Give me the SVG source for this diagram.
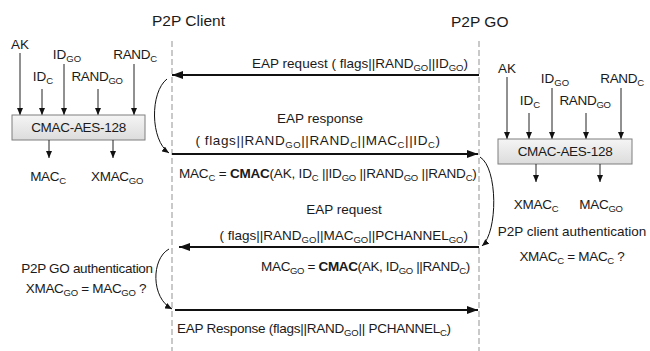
<svg xmlns="http://www.w3.org/2000/svg" width="650" height="351" viewBox="0 0 650 351">
<defs>
<style>
text{font-family:"Liberation Sans",Arial,sans-serif;fill:#1a1a1a;font-size:13.5px}
.title{font-size:15.5px}
.n{letter-spacing:-0.3px}
.sub{font-size:9.5px}
.b{font-weight:bold}
.life{stroke:#a6a6a6;stroke-width:1.2;stroke-dasharray:6,3;fill:none}
.msg{stroke:#111;stroke-width:1.8;fill:none;marker-end:url(#ah)}
.loop{stroke:#111;stroke-width:1;fill:none;marker-end:url(#sh)}
.in{stroke:#222;stroke-width:1;fill:none;marker-end:url(#sh)}
.box{fill:url(#g);stroke:#7f7f7f;stroke-width:1}
</style>
<linearGradient id="g" x1="0" y1="0" x2="0" y2="1">
<stop offset="0" stop-color="#f5f5f5"/>
<stop offset="1" stop-color="#dcdcdc"/>
</linearGradient>
<marker id="ah" markerUnits="userSpaceOnUse" markerWidth="11" markerHeight="8" refX="11" refY="4" orient="auto">
<path d="M0,0 L11,4 L0,8 z" fill="#111"/>
</marker>
<marker id="sh" markerUnits="userSpaceOnUse" markerWidth="7" markerHeight="6" refX="7" refY="3" orient="auto">
<path d="M0,0 L7,3 L0,6 z" fill="#111"/>
</marker>
</defs>
<rect width="650" height="351" fill="#fff"/>

<g id="title-client"><text class="title" x="152" y="26">P2P Client</text></g>
<g id="title-go"><text class="title" x="451" y="27">P2P GO</text></g>

<g id="lifelines">
<line class="life" x1="172" y1="41" x2="172" y2="351"/>
<line class="life" x1="479" y1="41" x2="479" y2="351"/>
</g>

<g id="cmac-client">
<text x="20" y="49" text-anchor="middle">AK</text>
<text x="43" y="81" text-anchor="middle">ID<tspan class="sub" dy="3">C</tspan></text>
<text x="67" y="59" text-anchor="middle">ID<tspan class="sub" dy="3">GO</tspan></text>
<text class="n" x="97" y="81" text-anchor="middle">RAND<tspan class="sub" dy="3">GO</tspan></text>
<text class="n" x="135" y="59" text-anchor="middle">RAND<tspan class="sub" dy="3">C</tspan></text>
<line class="in" x1="20" y1="53" x2="20" y2="115"/>
<line class="in" x1="42" y1="89" x2="42" y2="115"/>
<line class="in" x1="64" y1="64" x2="64" y2="115"/>
<line class="in" x1="98" y1="89" x2="98" y2="115"/>
<line class="in" x1="134" y1="64" x2="134" y2="115"/>
<rect class="box" x="12" y="115" width="133" height="25"/>
<text class="n" x="78.5" y="132" text-anchor="middle">CMAC-AES-128</text>
<line class="in" x1="49" y1="140" x2="49" y2="158"/>
<line class="in" x1="113" y1="140" x2="113" y2="158"/>
<text class="n" x="48" y="181" text-anchor="middle">MAC<tspan class="sub" dy="3">C</tspan></text>
<text class="n" x="117" y="181" text-anchor="middle">XMAC<tspan class="sub" dy="3">GO</tspan></text>
</g>

<g id="cmac-go">
<text x="507" y="73" text-anchor="middle">AK</text>
<text x="530" y="105" text-anchor="middle">ID<tspan class="sub" dy="3">C</tspan></text>
<text x="555" y="83" text-anchor="middle">ID<tspan class="sub" dy="3">GO</tspan></text>
<text class="n" x="585" y="105" text-anchor="middle">RAND<tspan class="sub" dy="3">GO</tspan></text>
<text class="n" x="622" y="83" text-anchor="middle">RAND<tspan class="sub" dy="3">C</tspan></text>
<line class="in" x1="507" y1="77" x2="507" y2="139"/>
<line class="in" x1="529" y1="113" x2="529" y2="139"/>
<line class="in" x1="552" y1="88" x2="552" y2="139"/>
<line class="in" x1="586" y1="113" x2="586" y2="139"/>
<line class="in" x1="621" y1="88" x2="621" y2="139"/>
<rect class="box" x="498" y="139" width="134" height="25"/>
<text class="n" x="565" y="156" text-anchor="middle">CMAC-AES-128</text>
<line class="in" x1="536" y1="164" x2="536" y2="182"/>
<line class="in" x1="600" y1="164" x2="600" y2="182"/>
<text class="n" x="536" y="209" text-anchor="middle">XMAC<tspan class="sub" dy="3">C</tspan></text>
<text class="n" x="601" y="209" text-anchor="middle">MAC<tspan class="sub" dy="3">GO</tspan></text>
</g>

<g id="auth-client">
<text x="572" y="236" text-anchor="middle">P2P client authentication</text>
<text class="n" x="572" y="261" text-anchor="middle">XMAC<tspan class="sub" dy="3">C</tspan><tspan dy="-3"> = MAC</tspan><tspan class="sub" dy="3">C</tspan><tspan dy="-3"> ?</tspan></text>
</g>

<g id="auth-go">
<text class="n" x="87" y="273" text-anchor="middle">P2P GO authentication</text>
<text class="n" x="86" y="293" text-anchor="middle">XMAC<tspan class="sub" dy="3">GO</tspan><tspan dy="-3"> = MAC</tspan><tspan class="sub" dy="3">GO</tspan><tspan dy="-3"> ?</tspan></text>
</g>

<g id="connectors">
<line class="msg" x1="479" y1="75" x2="172" y2="75"/>
<line class="msg" x1="172" y1="154" x2="478" y2="154"/>
<line class="msg" x1="479" y1="247" x2="179" y2="247"/>
<line class="msg" x1="175" y1="310" x2="478" y2="310"/>
<path class="loop" d="M167,79 C150,92 150,140 169,153"/>
<path class="loop" d="M480,157 C498,168 498,232 482,246"/>
<path class="loop" d="M169,249 C151,259 151,298 172,309"/>
</g>

<g id="labels">
<text x="468" y="68" text-anchor="end">EAP request ( flags||RAND<tspan class="sub" dy="3">GO</tspan><tspan dy="-3">||ID</tspan><tspan class="sub" dy="3">GO</tspan><tspan dy="-3">)</tspan></text>
<text x="320" y="123" text-anchor="middle">EAP response</text>
<text x="318" y="145" text-anchor="middle" style="letter-spacing:0.6px">( flags||RAND<tspan class="sub" dy="3">GO</tspan><tspan dy="-3">||RAND</tspan><tspan class="sub" dy="3">C</tspan><tspan dy="-3">||MAC</tspan><tspan class="sub" dy="3">C</tspan><tspan dy="-3">||ID</tspan><tspan class="sub" dy="3">C</tspan><tspan dy="-3">)</tspan></text>
<text x="179" y="178" style="letter-spacing:-0.2px">MAC<tspan class="sub" dy="3">C</tspan><tspan dy="-3"> = </tspan><tspan class="b">CMAC</tspan>(AK, ID<tspan class="sub" dy="3">C</tspan><tspan dy="-3"> ||ID</tspan><tspan class="sub" dy="3">GO</tspan><tspan dy="-3"> ||RAND</tspan><tspan class="sub" dy="3">GO</tspan><tspan dy="-3"> ||RAND</tspan><tspan class="sub" dy="3">C</tspan><tspan dy="-3">)</tspan></text>
<text x="344" y="214" text-anchor="middle">EAP request</text>
<text x="468" y="240" text-anchor="end">( flags||RAND<tspan class="sub" dy="3">GO</tspan><tspan dy="-3">||MAC</tspan><tspan class="sub" dy="3">GO</tspan><tspan dy="-3">||PCHANNEL</tspan><tspan class="sub" dy="3">GO</tspan><tspan dy="-3">)</tspan></text>
<text x="470" y="271" text-anchor="end" style="letter-spacing:-0.35px">MAC<tspan class="sub" dy="3">GO</tspan><tspan dy="-3"> = </tspan><tspan class="b">CMAC</tspan>(AK, ID<tspan class="sub" dy="3">GO</tspan><tspan dy="-3"> ||RAND</tspan><tspan class="sub" dy="3">C</tspan><tspan dy="-3">)</tspan></text>
<text x="177" y="333" style="letter-spacing:-0.25px">EAP Response (flags||RAND<tspan class="sub" dy="3">GO</tspan><tspan dy="-3">|| PCHANNEL</tspan><tspan class="sub" dy="3">C</tspan><tspan dy="-3">)</tspan></text>
</g>
</svg>
